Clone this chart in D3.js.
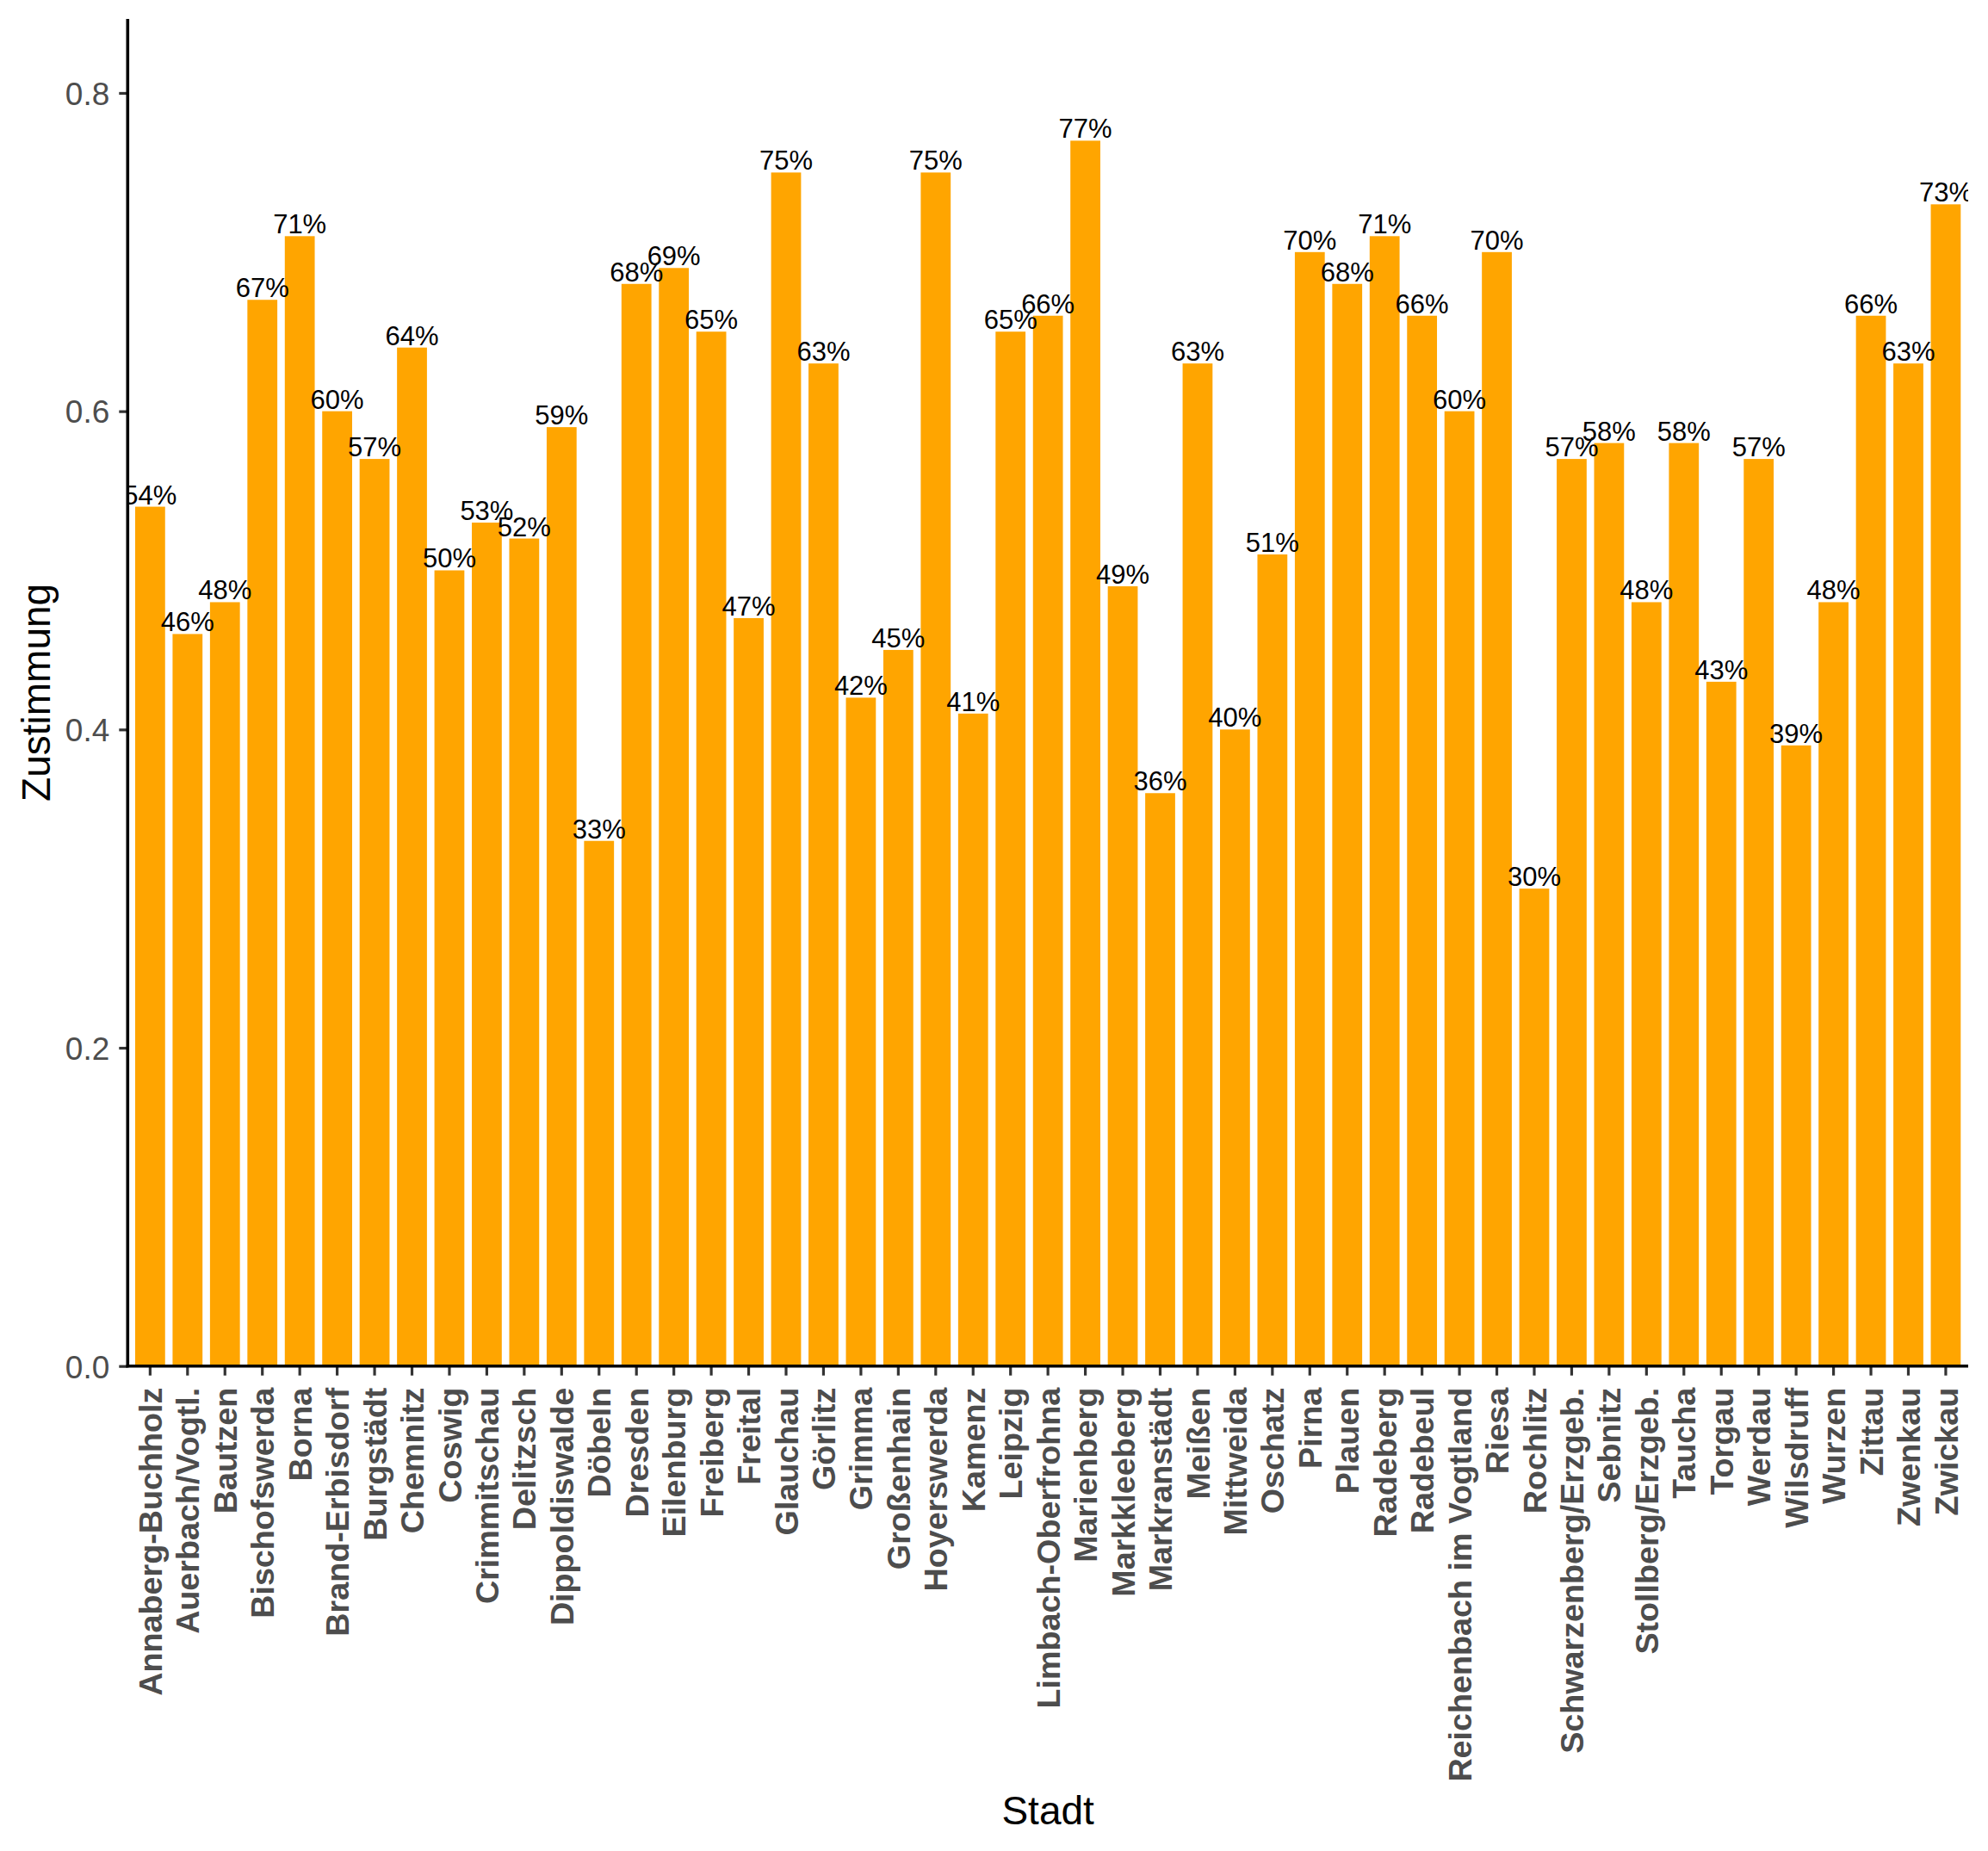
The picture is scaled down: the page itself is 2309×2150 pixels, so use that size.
<!DOCTYPE html>
<html>
<head>
<meta charset="utf-8">
<script src="https://cdn.jsdelivr.net/npm/d3@7"></script>
<style>
  html, body { margin: 0; padding: 0; background: #fff; }
  svg { display: block; font-family: "Liberation Sans", Arial, sans-serif; }
</style>
</head>
<body>
<svg id="chart" width="2309" height="2150"></svg>
<script>
const cities = ["Annaberg-Buchholz","Auerbach/Vogtl.","Bautzen","Bischofswerda","Borna","Brand-Erbisdorf","Burgstädt","Chemnitz","Coswig","Crimmitschau","Delitzsch","Dippoldiswalde","Döbeln","Dresden","Eilenburg","Freiberg","Freital","Glauchau","Görlitz","Grimma","Großenhain","Hoyerswerda","Kamenz","Leipzig","Limbach-Oberfrohna","Marienberg","Markkleeberg","Markranstädt","Meißen","Mittweida","Oschatz","Pirna","Plauen","Radeberg","Radebeul","Reichenbach im Vogtland","Riesa","Rochlitz","Schwarzenberg/Erzgeb.","Sebnitz","Stollberg/Erzgeb.","Taucha","Torgau","Werdau","Wilsdruff","Wurzen","Zittau","Zwenkau","Zwickau"];
const zustimmung = [0.54,0.46,0.48,0.67,0.71,0.60,0.57,0.64,0.50,0.53,0.52,0.59,0.33,0.68,0.69,0.65,0.47,0.75,0.63,0.42,0.45,0.75,0.41,0.65,0.66,0.77,0.49,0.36,0.63,0.40,0.51,0.70,0.68,0.71,0.66,0.60,0.70,0.30,0.57,0.58,0.48,0.58,0.43,0.57,0.39,0.48,0.66,0.63,0.73];
const yTicks = [0.0, 0.2, 0.4, 0.6, 0.8];
const yTickLabels = ["0.0", "0.2", "0.4", "0.6", "0.8"];
const xTitle = "Stadt";
const yTitle = "Zustimmung";

const data = cities.map((c, i) => ({ city: c, value: zustimmung[i] }));

const panel = { left: 148.3, right: 2286, top: 22, bottom: 1586.7 };
const svg = d3.select("#chart");

const x = d3.scaleBand()
  .domain(cities)
  .range([panel.left, panel.right])
  .paddingInner(0.2)
  .paddingOuter(0.2);

const y = d3.scaleLinear()
  .domain([0, 0.8465])
  .range([panel.bottom, panel.top]);

svg.append("defs").append("clipPath").attr("id", "panelClip")
  .append("rect")
  .attr("x", panel.left).attr("y", panel.top)
  .attr("width", panel.right - panel.left)
  .attr("height", panel.bottom - panel.top);

const g = svg.append("g").attr("clip-path", "url(#panelClip)");

g.selectAll("rect.bar").data(data).join("rect")
  .attr("class", "bar")
  .attr("x", d => x(d.city))
  .attr("width", x.bandwidth())
  .attr("y", d => y(d.value))
  .attr("height", d => y(0) - y(d.value))
  .attr("fill", "#FFA500");

g.selectAll("text.val").data(data).join("text")
  .attr("class", "val")
  .attr("x", d => x(d.city) + x.bandwidth() / 2)
  .attr("y", d => y(d.value) - 3)
  .attr("text-anchor", "middle")
  .attr("font-size", 31)
  .attr("fill", "#000")
  .text(d => Math.round(d.value * 100) + "%");

// X axis
const xAxis = d3.axisBottom(x).tickSize(11).tickSizeOuter(0).tickPadding(0);
const gx = svg.append("g").attr("transform", `translate(0,${panel.bottom})`).call(xAxis);
gx.select(".domain").remove();
gx.selectAll(".tick line").attr("stroke", "#333").attr("stroke-width", 3.2);
gx.selectAll(".tick text")
  .attr("transform", "rotate(-90)")
  .attr("x", -25)
  .attr("y", 0)
  .attr("dy", "0.36em")
  .attr("text-anchor", "end")
  .attr("font-size", 37.7)
  .attr("font-weight", "bold")
  .attr("font-family", "'Liberation Sans', Arial, sans-serif")
  .attr("fill", "#4d4d4d");

// Y axis
const yAxis = d3.axisLeft(y).tickValues(yTicks).tickFormat((d, i) => yTickLabels[i]).tickSize(10).tickSizeOuter(0).tickPadding(11);
const gy = svg.append("g").attr("transform", `translate(${panel.left},0)`).call(yAxis);
gy.select(".domain").remove();
gy.selectAll(".tick line").attr("stroke", "#333").attr("stroke-width", 3.2);
gy.selectAll(".tick text")
  .attr("font-size", 37)
  .attr("font-family", "'Liberation Sans', Arial, sans-serif")
  .attr("dy", "0.36em")
  .attr("fill", "#4d4d4d");

// axis lines
svg.append("line")
  .attr("x1", panel.left).attr("x2", panel.left)
  .attr("y1", panel.top).attr("y2", panel.bottom + 1.6)
  .attr("stroke", "#000").attr("stroke-width", 3.6);
svg.append("line")
  .attr("x1", panel.left - 1.6).attr("x2", panel.right)
  .attr("y1", panel.bottom).attr("y2", panel.bottom)
  .attr("stroke", "#000").attr("stroke-width", 3.6);

// titles
svg.append("text")
  .attr("x", (panel.left + panel.right) / 2)
  .attr("y", 2119)
  .attr("text-anchor", "middle")
  .attr("font-size", 46)
  .attr("fill", "#000")
  .text(xTitle);

svg.append("text")
  .attr("transform", `translate(58,${(panel.top + panel.bottom) / 2}) rotate(-90)`)
  .attr("text-anchor", "middle")
  .attr("font-size", 46)
  .attr("fill", "#000")
  .text(yTitle);
</script>
</body>
</html>
